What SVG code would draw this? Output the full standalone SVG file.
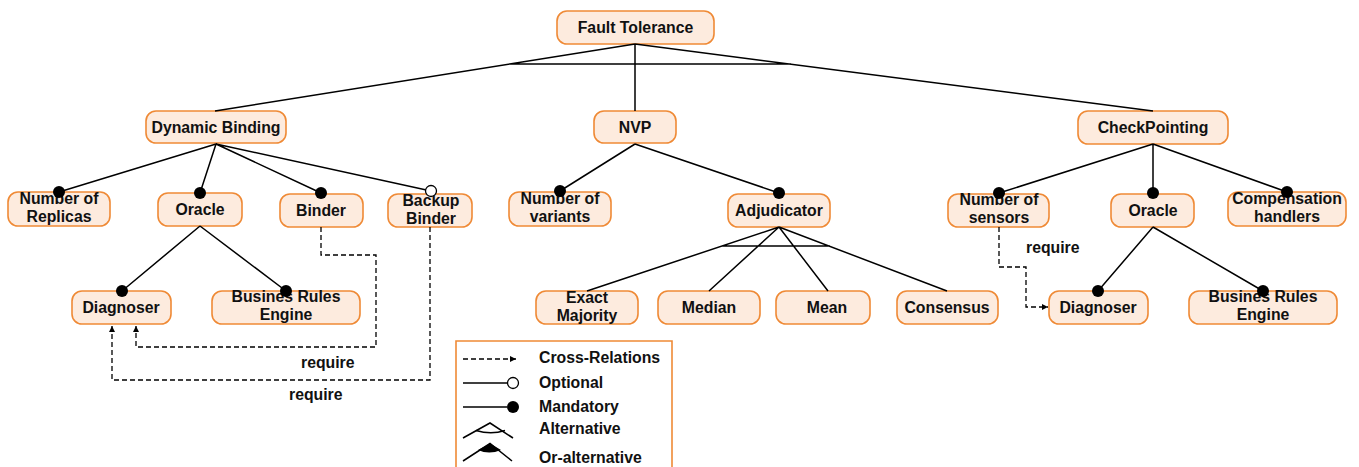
<svg xmlns="http://www.w3.org/2000/svg" width="1359" height="467" viewBox="0 0 1359 467">
  <defs>
    <marker id="arrow" viewBox="0 0 8 8" refX="8" refY="4" markerWidth="6" markerHeight="6" markerUnits="userSpaceOnUse" orient="auto">
      <path d="M0,0 L8,4 L0,8 z" fill="#000"/>
    </marker>
  </defs>
  <style>
    .box { fill: #fdebde; stroke: #ef8a36; stroke-width: 1.6; }
    .lbl { font-family: "Liberation Sans", Arial, sans-serif; font-weight: bold; font-size: 15.8px; fill: #111; text-anchor: middle; }
    .leg { font-family: "Liberation Sans", Arial, sans-serif; font-weight: bold; font-size: 15.8px; fill: #111; }
    .edge { stroke: #000; stroke-width: 1.5; fill: none; }
    .dash { stroke: #000; stroke-width: 1.3; fill: none; stroke-dasharray: 5 3; }
    .dot { fill: #000; }
    .hole { fill: #fff; stroke: #000; stroke-width: 1.3; }
  </style>

  <!-- root -->
  <g id="fault-tolerance">
    <rect class="box" x="557" y="11" width="157" height="33" rx="10"/>
    <text class="lbl" x="635.5" y="33">Fault Tolerance</text>
  </g>

  <!-- level 1 -->
  <g id="dynamic-binding">
    <rect class="box" x="146" y="111" width="140" height="32" rx="10"/>
    <text class="lbl" x="216" y="133">Dynamic Binding</text>
  </g>
  <g id="nvp">
    <rect class="box" x="594" y="111" width="82" height="32" rx="10"/>
    <text class="lbl" x="635" y="133">NVP</text>
  </g>
  <g id="checkpointing">
    <rect class="box" x="1078" y="111" width="150" height="33" rx="10"/>
    <text class="lbl" x="1153" y="133">CheckPointing</text>
  </g>

  <!-- Dynamic Binding features -->
  <g id="number-of-replicas">
    <rect class="box" x="8" y="192" width="102" height="34" rx="10"/>
    <text class="lbl" x="59" y="204">Number of</text>
    <text class="lbl" x="59" y="222">Replicas</text>
  </g>
  <g id="oracle-left">
    <rect class="box" x="158" y="193" width="84" height="33" rx="10"/>
    <text class="lbl" x="200" y="215">Oracle</text>
  </g>
  <g id="binder">
    <rect class="box" x="280" y="194" width="83" height="33" rx="10"/>
    <text class="lbl" x="321" y="216">Binder</text>
  </g>
  <g id="backup-binder">
    <rect class="box" x="388" y="194" width="84" height="33" rx="10"/>
    <text class="lbl" x="431" y="206">Backup</text>
    <text class="lbl" x="431" y="224">Binder</text>
  </g>
  <g id="diagnoser-left">
    <rect class="box" x="72" y="291" width="99" height="33" rx="10"/>
    <text class="lbl" x="121" y="313">Diagnoser</text>
  </g>
  <g id="business-rules-left">
    <rect class="box" x="212" y="291" width="148" height="33" rx="10"/>
    <text class="lbl" x="286" y="302">Busines Rules</text>
    <text class="lbl" x="286" y="320">Engine</text>
  </g>

  <!-- NVP features -->
  <g id="number-of-variants">
    <rect class="box" x="509" y="192" width="102" height="34" rx="10"/>
    <text class="lbl" x="560" y="204">Number of</text>
    <text class="lbl" x="560" y="222">variants</text>
  </g>
  <g id="adjudicator">
    <rect class="box" x="728" y="194" width="102" height="33" rx="10"/>
    <text class="lbl" x="779" y="216">Adjudicator</text>
  </g>
  <g id="exact-majority">
    <rect class="box" x="536" y="291" width="102" height="33" rx="10"/>
    <text class="lbl" x="587" y="303">Exact</text>
    <text class="lbl" x="587" y="321">Majority</text>
  </g>
  <g id="median">
    <rect class="box" x="658" y="291" width="102" height="33" rx="10"/>
    <text class="lbl" x="709" y="313">Median</text>
  </g>
  <g id="mean">
    <rect class="box" x="776" y="291" width="94" height="33" rx="10"/>
    <text class="lbl" x="827" y="313">Mean</text>
  </g>
  <g id="consensus">
    <rect class="box" x="897" y="291" width="101" height="33" rx="10"/>
    <text class="lbl" x="947" y="313">Consensus</text>
  </g>

  <!-- CheckPointing features -->
  <g id="number-of-sensors">
    <rect class="box" x="948" y="194" width="101" height="33" rx="10"/>
    <text class="lbl" x="999" y="205">Number of</text>
    <text class="lbl" x="999" y="223">sensors</text>
  </g>
  <g id="oracle-right">
    <rect class="box" x="1111" y="194" width="83" height="33" rx="10"/>
    <text class="lbl" x="1153" y="216">Oracle</text>
  </g>
  <g id="compensation-handlers">
    <rect class="box" x="1228" y="192" width="118" height="34" rx="10"/>
    <text class="lbl" x="1287" y="204">Compensation</text>
    <text class="lbl" x="1287" y="222">handlers</text>
  </g>
  <g id="diagnoser-right">
    <rect class="box" x="1049" y="291" width="99" height="33" rx="10"/>
    <text class="lbl" x="1098" y="313">Diagnoser</text>
  </g>
  <g id="business-rules-right">
    <rect class="box" x="1189" y="291" width="148" height="33" rx="10"/>
    <text class="lbl" x="1263" y="302">Busines Rules</text>
    <text class="lbl" x="1263" y="320">Engine</text>
  </g>

  <!-- connectors, drawn above the nodes so the end markers overlap the boxes -->
  <g id="connectors">
    <!-- Fault Tolerance alternative group -->
    <path class="edge" d="M635,44 L215,111 M635,44 L635,111 M635,44 L1153,111 M511,64 L791,64"/>
    <!-- Dynamic Binding children -->
    <path class="edge" d="M216,144 L59,192 M216,144 L200,193 M216,144 L321,193 M216,144 L431,191"/>
    <!-- Oracle (left) children -->
    <path class="edge" d="M200,226 L122,291 M200,226 L286,291"/>
    <!-- NVP children -->
    <path class="edge" d="M635,144 L560,191 M635,144 L779,193"/>
    <!-- Adjudicator alternative group -->
    <path class="edge" d="M779,227 L587,291 M779,227 L709,291 M779,227 L828,291 M779,227 L947,291 M722,246 L830,246"/>
    <!-- CheckPointing children -->
    <path class="edge" d="M1153,144 L999,193 M1153,144 L1153,193 M1153,144 L1287,192"/>
    <!-- Oracle (right) children -->
    <path class="edge" d="M1153,227 L1098,291 M1153,227 L1263,291"/>

    <!-- feature markers -->
    <circle class="dot" cx="59" cy="192" r="6"/>
    <circle class="dot" cx="200" cy="193" r="6"/>
    <circle class="dot" cx="321" cy="193" r="6"/>
    <circle class="hole" cx="431" cy="191" r="5.5"/>
    <circle class="dot" cx="122" cy="291" r="6"/>
    <circle class="dot" cx="286" cy="291" r="6"/>
    <circle class="dot" cx="560" cy="191" r="6"/>
    <circle class="dot" cx="779" cy="193" r="6"/>
    <circle class="dot" cx="999" cy="193" r="6"/>
    <circle class="dot" cx="1153" cy="193" r="6"/>
    <circle class="dot" cx="1287" cy="192" r="6"/>
    <circle class="dot" cx="1098" cy="291" r="6"/>
    <circle class="dot" cx="1263" cy="291" r="6"/>

    <!-- cross-relations -->
    <path class="dash" d="M321,227 L321,255 L376,255 L376,347 L136,347 L136,326" marker-end="url(#arrow)"/>
    <path class="dash" d="M430,227 L430,380 L112,380 L112,326" marker-end="url(#arrow)"/>
    <path class="dash" d="M999,227 L999,267 L1026,267 L1026,307 L1048,307" marker-end="url(#arrow)"/>
    <text class="leg" x="301" y="368">require</text>
    <text class="leg" x="289" y="400">require</text>
    <text class="leg" x="1026" y="253">require</text>
  </g>

  <!-- legend -->
  <g id="legend">
    <path d="M456,470 L456,341 L672,341 L672,470" fill="#fff" stroke="#ef8a36" stroke-width="1.6"/>
    <path class="dash" d="M463,359 L516,359" stroke-dasharray="3 2" marker-end="url(#arrow)"/>
    <text class="leg" x="539" y="363">Cross-Relations</text>
    <path class="edge" d="M463,383 L507,383"/>
    <circle class="hole" cx="513" cy="383" r="5.5"/>
    <text class="leg" x="539" y="388">Optional</text>
    <path class="edge" d="M463,407 L507,407"/>
    <circle class="dot" cx="513" cy="407" r="6"/>
    <text class="leg" x="539" y="412">Mandatory</text>
    <path class="edge" d="M463,438 L490,423 L513,438"/>
    <path class="edge" d="M476,430.5 Q491,435 505,430.5" stroke-width="1.2"/>
    <text class="leg" x="539" y="434">Alternative</text>
    <path d="M478,450 L490,443.5 L501,450 Q489,455 478,450 z" fill="#000"/>
    <path class="edge" d="M463,461 L490,443.5 L512,461"/>
    <text class="leg" x="539" y="463">Or-alternative</text>
  </g>
</svg>
